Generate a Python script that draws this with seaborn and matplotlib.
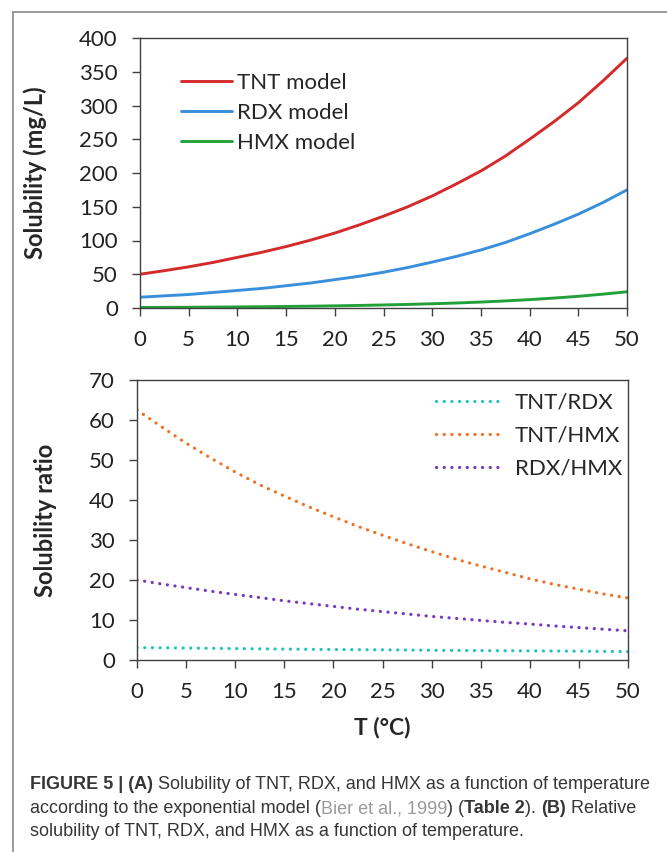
import matplotlib
matplotlib.use('Agg')
import matplotlib.pyplot as plt
from matplotlib.lines import Line2D
from matplotlib.text import Annotation
import seaborn as sns

# ------------------ DATA ------------------
temps = [0, 2.5, 5, 7.5, 10, 12.5, 15, 17.5, 20, 22.5, 25,
         27.5, 30, 32.5, 35, 37.5, 40, 42.5, 45, 47.5, 50]

# (A) solubility, mg/L
tnt_model = [50, 55.3, 61, 67.5, 75, 82.5, 91, 100.5, 111, 123, 136,
             150, 166, 184, 203, 225, 250, 276, 304, 336, 370]
rdx_model = [16, 18, 20, 23, 26, 29, 33, 37, 42, 47, 53,
             60, 68, 76.5, 86, 97, 110, 124, 139, 156, 175]
hmx_model = [0.8, 0.95, 1.1, 1.35, 1.6, 1.9, 2.3, 2.7, 3.2, 3.8, 4.5,
             5.3, 6.3, 7.4, 8.8, 10.5, 12.4, 14.7, 17.3, 20.5, 24]

# (B) solubility ratios
tnt_rdx = [3.1, 3.05, 3.0, 2.92, 2.85, 2.79, 2.73, 2.67, 2.62, 2.58, 2.55,
           2.49, 2.43, 2.39, 2.35, 2.31, 2.28, 2.24, 2.2, 2.15, 2.11]
tnt_hmx = [62.5, 58.3, 54.2, 50.5, 47, 43.8, 41, 38.3, 35.8, 33.4, 31.2,
           29.1, 27.1, 25.2, 23.5, 21.9, 20.3, 18.9, 17.7, 16.5, 15.5]
rdx_hmx = [20, 19, 18.1, 17.2, 16.4, 15.6, 14.8, 14.1, 13.4, 12.7, 12.1,
           11.5, 10.9, 10.4, 9.9, 9.4, 9.0, 8.5, 8.1, 7.7, 7.3]

x_ticks = list(range(0, 51, 5))
top_yticks = list(range(0, 401, 50))
bot_yticks = list(range(0, 71, 10))

sns.set_style("white")
plt.rcParams['font.family'] = ['Lato', 'DejaVu Sans']

fig = plt.figure(figsize=(6.67, 8.52), dpi=100)
W, H = 667, 852


def px_axes(left, right, top, bottom):
    return fig.add_axes([left / W, 1 - bottom / H, (right - left) / W, (bottom - top) / H])


ax1 = px_axes(140, 627, 38, 308)
ax2 = px_axes(137, 628, 380, 660)

DOTS = (0.05, 2.35)

# ------------------ PANEL A ------------------
sns.lineplot(x=temps, y=tnt_model, ax=ax1, color='#d42a2a', linewidth=2.1, label='TNT model')
sns.lineplot(x=temps, y=rdx_model, ax=ax1, color='#3a8fdc', linewidth=2.1, label='RDX model')
sns.lineplot(x=temps, y=hmx_model, ax=ax1, color='#24a03a', linewidth=2.1, label='HMX model')
ax1.set_ylim(0, 400)
ax1.set_yticks(top_yticks)
ax1.set_ylabel("Solubility (mg/L)", fontsize=17, fontweight='bold')
ax1.yaxis.set_label_coords((47 - 140) / 487, 0.5)
ax1.legend(loc='upper left', bbox_to_anchor=(0.084, 0.87), frameon=False, fontsize=16,
           borderpad=0, borderaxespad=0, handlelength=2.3, handletextpad=0.22,
           labelspacing=0.45)

# ------------------ PANEL B ------------------
for vals, col, lab in [(tnt_rdx, '#20c4c0', 'TNT/RDX'),
                       (tnt_hmx, '#f07020', 'TNT/HMX'),
                       (rdx_hmx, '#7a38c0', 'RDX/HMX')]:
    sns.lineplot(x=temps, y=vals, ax=ax2, color=col, linewidth=2.3, label=lab)
for ln in ax2.get_lines():
    ln.set_dashes(DOTS)
    ln.set_dash_capstyle('round')
ax2.set_ylim(0, 70)
ax2.set_yticks(bot_yticks)
ax2.set_ylabel("Solubility ratio", fontsize=17, fontweight='bold')
ax2.yaxis.set_label_coords((57 - 137) / 491, 0.5)
ax2.set_xlabel("T (°C)", fontsize=16.5, fontweight='bold', va='center')
ax2.xaxis.set_label_coords(0.5, -(727 - 660) / 280)
leg2 = ax2.legend(loc='upper right', bbox_to_anchor=(0.988, 0.954), frameon=False, fontsize=16,
                  borderpad=0, borderaxespad=0, handlelength=3.0, handletextpad=0.55,
                  labelspacing=0.58)
for h in leg2.get_lines():
    h.set_dashes(DOTS)
    h.set_dash_capstyle('round')

for ax in (ax1, ax2):
    ax.set_xlim(0, 50)
    ax.set_xticks(x_ticks)
    for s in ax.spines.values():
        s.set_color('#404040')
        s.set_linewidth(1)
    ax.tick_params(axis='both', which='both', direction='out', length=6, width=1,
                   color='#404040', labelsize=16, labelcolor='#222222')
    ax.tick_params(axis='x', pad=10)
    ax.tick_params(axis='y', pad=10)
    ax.tick_params(left=True, bottom=True)

# frame around the figure panel
fig.add_artist(Line2D([13 / W, 1], [1 - 12 / H, 1 - 12 / H], color='#8a8a8a', linewidth=1.2))
fig.add_artist(Line2D([13 / W, 13 / W], [0, 1 - 12 / H], color='#8a8a8a', linewidth=1.2))

# ------------------ CAPTION ------------------
cap_font = ['Liberation Sans', 'DejaVu Sans']
cap_size = 13
dark, grey = '#363636', '#9a9a9a'


def caption_line(y, pieces):
    txt, weight, color = pieces[0]
    prev = fig.text(30 / W, 1 - y / H, txt, fontsize=cap_size, fontweight=weight,
                    color=color, family=cap_font, va='baseline', ha='left')
    for txt, weight, color in pieces[1:]:
        prev = fig.add_artist(Annotation(
            txt, xy=(1, 0), xycoords=prev, xytext=(0, 0), textcoords='offset points',
            fontsize=cap_size, fontweight=weight, color=color, family=cap_font,
            va='bottom', ha='left'))


caption_line(789, [("FIGURE 5 | (A)", 'bold', dark),
                   (" Solubility of TNT, RDX, and HMX as a function of temperature", 'normal', dark)])
caption_line(813, [("according to the exponential model (", 'normal', dark),
                   ("Bier et al., 1999", 'normal', grey),
                   (") (", 'normal', dark),
                   ("Table 2", 'bold', dark),
                   ("). ", 'normal', dark),
                   ("(B)", 'bold', dark),
                   (" Relative", 'normal', dark)])
caption_line(836, [("solubility of TNT, RDX, and HMX as a function of temperature.", 'normal', dark)])

fig.savefig("out.png", dpi=100)
